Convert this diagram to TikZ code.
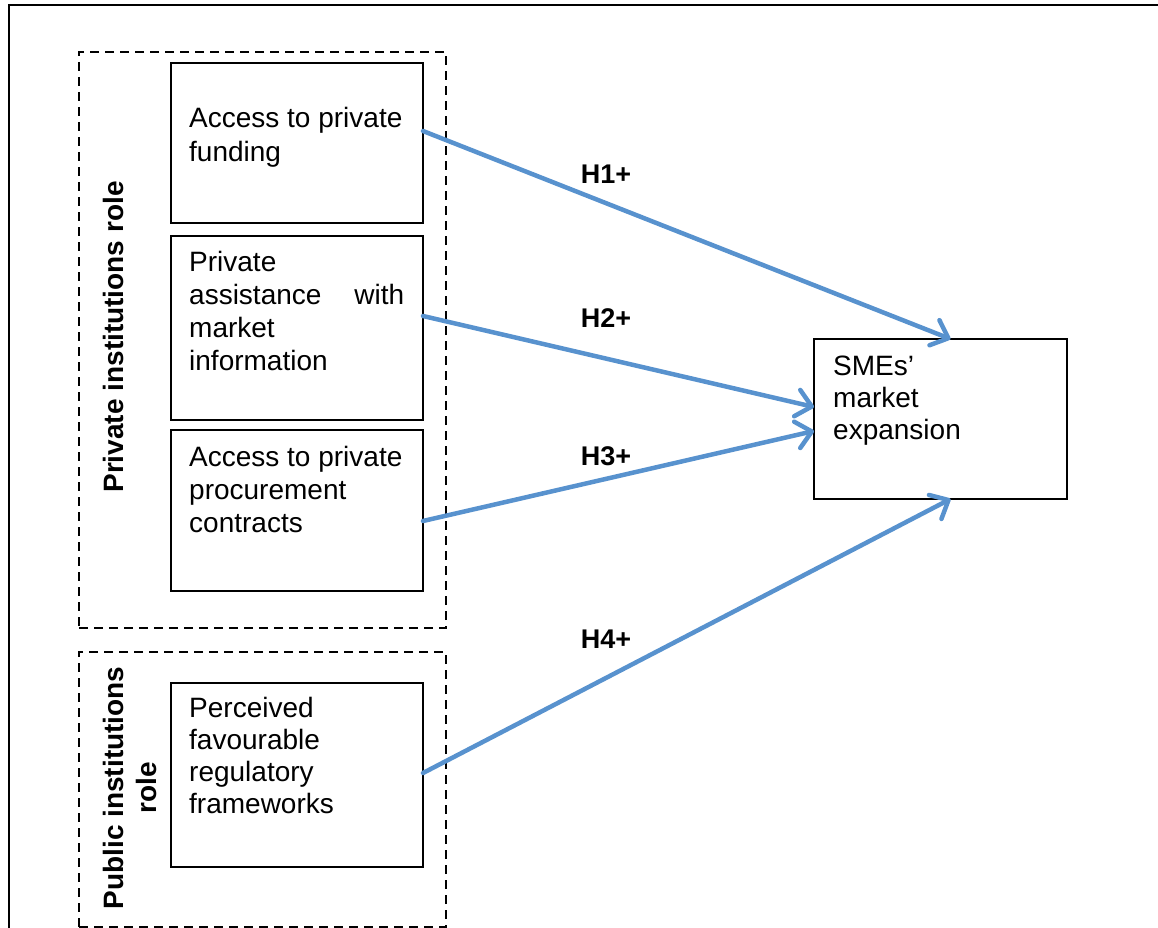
\documentclass[tikz,border=0pt]{standalone}
\usepackage{fontspec}
\setmainfont{Liberation Sans}
\usetikzlibrary{arrows.meta,calc}
\definecolor{arrowblue}{RGB}{88,146,206}
\begin{document}
\begin{tikzpicture}[x=1pt,y=-1pt,
  frame/.style={line width=2.8pt},
  dbox/.style={draw, line width=2.2pt, dash pattern=on 9pt off 6pt, minimum width=367pt, inner sep=0pt, outer sep=0pt},
  sbox/.style={draw, line width=2.3pt, minimum width=252pt, inner sep=0pt, outer sep=0pt},
  txt/.style={anchor=base west, align=left, inner sep=0pt, font=\fontsize{28}{33}\selectfont},
  grp/.style={rotate=90, anchor=base, align=center, inner sep=0pt, font=\fontsize{28}{33}\selectfont\bfseries},
  hyp/.style={inner sep=0pt, anchor=base, font=\fontsize{27}{32}\selectfont\bfseries},
  link/.style={draw=arrowblue, line width=4.5pt, line cap=round, -{Straight Barb[length=15pt,width=27pt,round]}}
]
\useasboundingbox (0,0) rectangle (1158,928);
\coordinate (fa) at (9,930);
\coordinate (fb) at (9,5);
\coordinate (fc) at (1160,5);
\draw[frame] (fa) -- (fb) -- (fc);

\node[dbox, minimum height=576pt] (priv) at (262.5,340) {};
\node[dbox, minimum height=275pt] (pub) at (262.5,789.5) {};

\node[sbox, minimum height=160pt] (b1) at (297,143) {};
\node[sbox, minimum height=184pt] (b2) at (297,328) {};
\node[sbox, minimum height=161pt] (b3) at (297,510.5) {};
\node[sbox, minimum height=184pt] (b4) at (297,775) {};
\node[sbox, minimum width=253pt, minimum height=160pt] (sme) at (940.5,419) {};

% base anchor = baseline of last line
\node[txt] (t1) at (189,161) {Access to private\\funding};
\node[txt] (t2) at (189,370) {Private\\\makebox[215pt][s]{assistance with}\\market\\information};
\node[txt] (t3) at (189,532) {Access to private\\procurement\\contracts};
\node[txt, font=\fontsize{28}{32}\selectfont] (t4) at (189,813) {Perceived\\favourable\\regulatory\\frameworks};
\node[txt, font=\fontsize{28}{32}\selectfont] (t5) at (833,439) {SMEs’\\market\\expansion};

\node[grp] (g1) at (123,337) {Private institutions role};
\node[grp] (g2) at (156,788) {Public institutions\\role};

\node[hyp] (h1) at (606,183) {H1+};
\node[hyp] (h2) at (606,327) {H2+};
\node[hyp] (h3) at (606,465) {H3+};
\node[hyp] (h4) at (606,648) {H4+};

\draw[link] ([yshift=12pt]b1.east) -- ([xshift=10pt]sme.north);
\draw[link] ([yshift=12pt]b2.east) -- ([yshift=12pt]sme.west);
\draw[link] ([yshift=-10.5pt]b3.east) -- ([yshift=-12pt]sme.west);
\draw[link] ([yshift=2pt]b4.east) -- ([xshift=10pt]sme.south);
\end{tikzpicture}
\end{document}
